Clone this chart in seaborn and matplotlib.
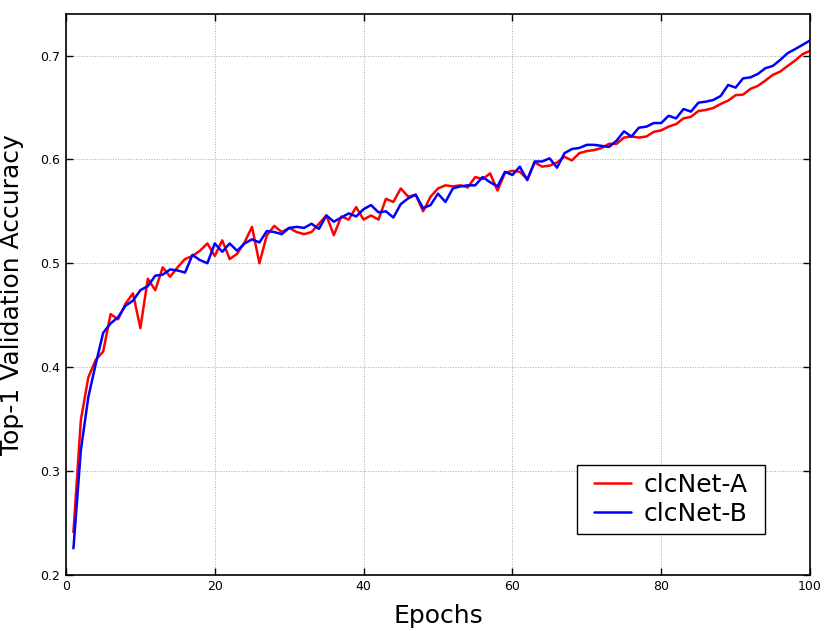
import numpy as np
import pandas as pd
import matplotlib
matplotlib.use("Agg")
import matplotlib.pyplot as plt
from matplotlib.path import Path
import seaborn as sns

epochs = list(range(1, 101))
clcnet_a = [
    0.241, 0.349, 0.390, 0.407, 0.415, 0.451, 0.446, 0.461, 0.471, 0.4375,
    0.485, 0.474, 0.496, 0.487, 0.496, 0.504, 0.507, 0.512, 0.519, 0.507,
    0.522, 0.504, 0.509, 0.520, 0.535, 0.500, 0.527, 0.536, 0.530, 0.534,
    0.530, 0.528, 0.530, 0.538, 0.546, 0.527, 0.545, 0.542, 0.554, 0.542,
    0.546, 0.542, 0.562, 0.559, 0.572, 0.564, 0.566, 0.550, 0.564, 0.572,
    0.575, 0.574, 0.575, 0.573, 0.583, 0.581, 0.5865, 0.570, 0.587, 0.589,
    0.588, 0.581, 0.597, 0.593, 0.594, 0.597, 0.6025, 0.599, 0.606, 0.608,
    0.609, 0.611, 0.615, 0.615, 0.621, 0.622, 0.621, 0.622, 0.6265, 0.628,
    0.6315, 0.634, 0.6395, 0.641, 0.6466, 0.6476, 0.6495, 0.6534, 0.6566, 0.6618,
    0.6624, 0.6679, 0.6708, 0.6759, 0.6814, 0.6846, 0.690, 0.6952, 0.7013, 0.7045,
]
clcnet_b = [
    0.2254, 0.320, 0.371, 0.403, 0.433, 0.442, 0.448, 0.459, 0.464, 0.474,
    0.478, 0.488, 0.489, 0.494, 0.493, 0.491, 0.508, 0.503, 0.500, 0.519,
    0.511, 0.519, 0.512, 0.519, 0.523, 0.520, 0.531, 0.530, 0.528, 0.534,
    0.535, 0.534, 0.538, 0.533, 0.546, 0.540, 0.544, 0.548, 0.545, 0.552,
    0.556, 0.549, 0.550, 0.544, 0.557, 0.5625, 0.566, 0.553, 0.556, 0.567,
    0.559, 0.572, 0.574, 0.575, 0.575, 0.583, 0.578, 0.574, 0.588, 0.585,
    0.593, 0.580, 0.598, 0.598, 0.601, 0.592, 0.606, 0.610, 0.611, 0.614,
    0.614, 0.613, 0.612, 0.618, 0.627, 0.622, 0.6305, 0.6315, 0.635, 0.635,
    0.642, 0.6395, 0.6485, 0.646, 0.6546, 0.6556, 0.6572, 0.6611, 0.6717, 0.6691,
    0.678, 0.679, 0.6823, 0.6878, 0.690, 0.6958, 0.7023, 0.7062, 0.7103, 0.7145,
]
series_names = ["clcNet-A", "clcNet-B"]
series_colors = ["#ff0000", "#0000ff"]
x_ticks = [0, 20, 40, 60, 80, 100]
y_ticks = [0.2, 0.3, 0.4, 0.5, 0.6, 0.7]

df = pd.DataFrame({
    "Epoch": epochs * 2,
    "Accuracy": clcnet_a + clcnet_b,
    "Model": [series_names[0]] * len(epochs) + [series_names[1]] * len(epochs),
})

sns.set_style("ticks")
plt.rcParams["font.family"] = ["DejaVu Sans"]
plt.rcParams["text.color"] = "black"
plt.rcParams["axes.labelcolor"] = "black"
plt.rcParams["xtick.color"] = "black"
plt.rcParams["ytick.color"] = "black"

fig = plt.figure(figsize=(8.3, 6.31), dpi=100)
ax = fig.add_axes([0.0795, 0.0892, 0.8964, 0.8886])

sns.lineplot(data=df, x="Epoch", y="Accuracy", hue="Model",
             palette=dict(zip(series_names, series_colors)),
             linewidth=1.8, ax=ax, legend=True)

ax.set_xlim(0, 100)
ax.set_ylim(0.2, 0.74)
ax.set_xticks(x_ticks)
ax.set_yticks(y_ticks)
ax.set_xticklabels([str(t) for t in x_ticks])
ax.set_yticklabels([f"{t:.1f}" for t in y_ticks])
ax.grid(True, color="#a8a8a8", linestyle=":", linewidth=0.7)
ax.tick_params(direction="in", length=5, width=1, colors="black",
               labelcolor="black", labelsize=9, pad=4, top=True, right=True)
for s in ax.spines.values():
    s.set_color("black")
    s.set_linewidth(1.2)
    s.set_visible(True)

ax.set_xlabel("Epochs", fontsize=18, labelpad=8, color="black")
ax.set_ylabel("Top-1 Validation Accuracy", fontsize=18, labelpad=11.5, color="black")


def wide_box(x0, y0, width, height, mutation_size):
    # extra horizontal padding only
    px = 0.35 * mutation_size
    x0 -= px
    x1 = x0 + width + 2 * px
    y1 = y0 + height
    return Path([(x0, y0), (x1, y0), (x1, y1), (x0, y1), (x0, y0)],
                closed=True)


handles, labels = ax.get_legend_handles_labels()
leg = ax.legend(handles, labels, loc="lower right",
                bbox_to_anchor=(0.9274, 0.0726), borderaxespad=0,
                fontsize=18, fancybox=False, frameon=True, framealpha=1,
                edgecolor="black", handlelength=1.5, handletextpad=0.5,
                labelspacing=0.2, borderpad=0.33)
leg.get_frame().set_linewidth(1.0)
leg.get_frame().set_boxstyle(wide_box)
for t in leg.get_texts():
    t.set_color("black")

fig.savefig("out.png", dpi=100)
